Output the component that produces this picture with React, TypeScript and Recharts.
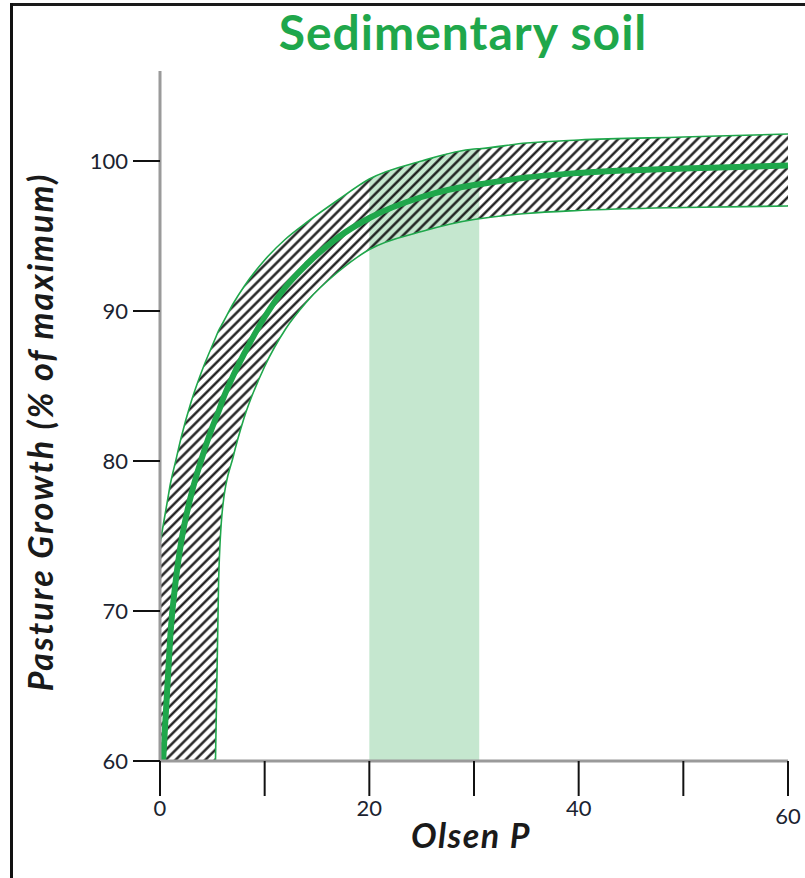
import React from 'react';
import { ComposedChart, Area, Line, XAxis, YAxis } from 'recharts';

// Olsen P sample positions
const olsenP = [0, 0.3, 0.5, 0.75, 1, 1.5, 2, 3, 4, 5.3, 5.6, 6, 7, 8, 10, 12, 14, 17, 20, 25, 30, 30.5, 35, 40, 50, 60];
// Mean pasture growth response (% of maximum)
const growthMean = [null, 60, 62.5, 65.5, 68.5, 72, 74.5, 77.8, 80.2, 82.8, 83.3, 84.1, 85.7, 87.1, 89.6, 91.6, 93.1, 94.9, 96.2, 97.6, 98.4, 98.45, 98.9, 99.2, 99.5, 99.7];
// Upper edge of the uncertainty band
const growthUpper = [74.5, 75.7, 76.5, 77.5, 78.5, 80, 81.5, 84, 86, 88.2, 88.7, 89.2, 90.5, 91.6, 93.4, 94.8, 95.9, 97.4, 98.8, 100, 100.8, 100.82, 101.2, 101.4, 101.6, 101.8];
// Lower edge of the uncertainty band
const growthLower = [60, 60, 60, 60, 60, 60, 60, 60, 60, 60, 72, 77, 80.3, 82.8, 86.3, 88.8, 90.6, 92.6, 94.1, 95.3, 96.1, 96.15, 96.5, 96.7, 96.9, 97.0];
// Optimum Olsen P range (shaded)
const optimumRange = [20, 30.5];

const xTicks = [0, 10, 20, 30, 40, 50, 60];
const xTickLabels = [0, 20, 40, 60];
const yTicks = [60, 70, 80, 90, 100];

const title = 'Sedimentary soil';
const xTitle = 'Olsen P';
const yTitle = 'Pasture Growth (% of maximum)';

const data = olsenP.map((x, i) => ({
  x,
  mean: growthMean[i],
  upper: growthUpper[i],
  lowerEdge: x >= 5.3 ? growthLower[i] : null,
  band: [growthLower[i], growthUpper[i]],
  optimum: x >= optimumRange[0] && x <= optimumRange[1] ? [60, growthUpper[i]] : null,
}));

const GREEN = '#1fa74b';
const FONT = 'Lato, "Open Sans", sans-serif';

const XTick = (props: any) => {
  const { x, y, payload } = props;
  if (!xTickLabels.includes(payload.value)) return <g />;
  const dy = payload.value === 60 ? 26 : 18;
  return (
    <text x={x} y={y} dy={dy} textAnchor="middle" fill="#1b2330" fontSize={22} fontFamily={FONT}>
      {payload.value}
    </text>
  );
};

export default function App() {
  return (
    <div style={{ position: 'absolute', left: 0, top: 0, width: 805, height: 878, background: '#fff', overflow: 'hidden' }}>
      <svg width={0} height={0} style={{ position: 'absolute' }}>
        <defs>
          <pattern id="hatch" patternUnits="userSpaceOnUse" width={7} height={7} patternTransform="rotate(45)">
            <line x1={3.5} y1={0} x2={3.5} y2={7} stroke="#111" strokeWidth={2.3} />
          </pattern>
        </defs>
      </svg>
      <div style={{ position: 'absolute', left: 10, top: 3, width: 795, height: 3, background: '#1a1a1a' }} />
      <div style={{ position: 'absolute', left: 10, top: 3, width: 3, height: 875, background: '#111' }} />
      <div style={{ position: 'absolute', left: 0, top: 0 }}>
        <ComposedChart width={805} height={878} data={data} margin={{ top: 71, right: 17, bottom: 57, left: 0 }}>
          <XAxis
            dataKey="x"
            type="number"
            domain={[0, 60]}
            ticks={xTicks}
            interval={0}
            tickSize={35}
            tickMargin={2}
            height={60}
            axisLine={{ stroke: '#9a9a9a', strokeWidth: 3 }}
            tickLine={{ stroke: '#111', strokeWidth: 2 }}
            tick={<XTick />}
          />
          <YAxis
            type="number"
            domain={[60, 106]}
            ticks={yTicks}
            interval={0}
            width={160}
            tickSize={27}
            tickMargin={5}
            axisLine={{ stroke: '#9a9a9a', strokeWidth: 3 }}
            tickLine={{ stroke: '#111', strokeWidth: 2 }}
            tick={{ fill: '#1b2330', fontSize: 22, fontFamily: FONT }}
          />
          <Area dataKey="optimum" type="monotoneX" fill="#c5e7cf" fillOpacity={1} stroke="none" isAnimationActive={false} connectNulls={false} />
          <Area dataKey="band" type="monotoneX" fill="url(#hatch)" fillOpacity={1} stroke="none" isAnimationActive={false} />
          <Line dataKey="upper" type="monotoneX" stroke={GREEN} strokeWidth={1.6} dot={false} isAnimationActive={false} />
          <Line dataKey="lowerEdge" type="monotoneX" stroke={GREEN} strokeWidth={1.6} dot={false} isAnimationActive={false} />
          <Line dataKey="mean" type="monotoneX" stroke={GREEN} strokeWidth={6} dot={false} isAnimationActive={false} />
        </ComposedChart>
      </div>
      <svg width={805} height={878} style={{ position: 'absolute', left: 0, top: 0, pointerEvents: 'none' }}>
        <text x={463} y={50} textAnchor="middle" fill={GREEN} fontSize={48} fontWeight="bold" letterSpacing={1} fontFamily={FONT}>{title}</text>
        <text x={471} y={848} textAnchor="middle" fill="#1a1a1a" fontSize={34} fontWeight="bold" fontStyle="italic" letterSpacing={1.5} fontFamily={FONT}>{xTitle}</text>
        <text x={53} y={432} transform="rotate(-90 53 432)" textAnchor="middle" fill="#1a1a1a" fontSize={34} fontWeight="bold" fontStyle="italic" letterSpacing={2} fontFamily={FONT}>{yTitle}</text>
      </svg>
    </div>
  );
}
